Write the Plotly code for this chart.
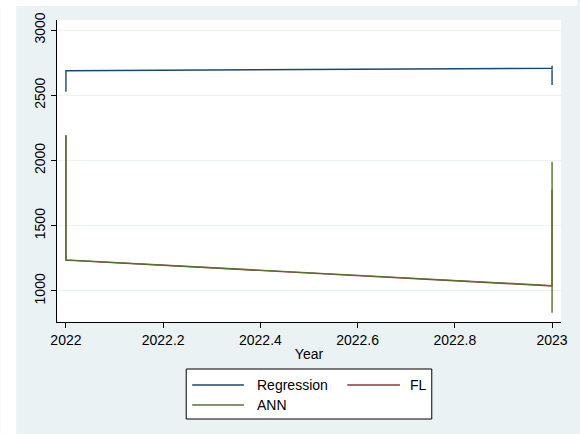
import plotly.graph_objects as go

# ---- data ----
series_names = ["Regression", "FL", "ANN"]
series_colors = ["#1a476f", "#90353b", "#55752f"]

reg_years = [2022, 2022, 2023, 2023, 2023]
reg_values = [2527, 2688, 2707, 2726, 2579]

fl_years = [2022, 2022, 2023, 2023]
fl_values = [2195, 1236, 1038, 1775]

ann_years = [2022, 2022, 2023, 2023, 2023]
ann_values = [2185, 1238, 1041, 1991, 833]

x_ticks = [2022, 2022.2, 2022.4, 2022.6, 2022.8, 2023]
x_tick_labels = ["2022", "2022.2", "2022.4", "2022.6", "2022.8", "2023"]
y_ticks = [1000, 1500, 2000, 2500, 3000]

W, H = 580, 434
L, R, T, B = 57, 16, 20, 112
PW, PH = W - L - R, H - T - B

def fx(px):
    return (px - L) / PW

def fy(py):
    return (H - B - py) / PH

FONT = "Liberation Sans, Arial, sans-serif"
BG = "#eaf2f3"

fig = go.Figure()
data = [(reg_years, reg_values), (fl_years, fl_values), (ann_years, ann_values)]
for (xs, ys), name, col in zip(data, series_names, series_colors):
    fig.add_trace(go.Scatter(x=xs, y=ys, mode="lines", name=name,
                             line=dict(color=col, width=1.4), showlegend=False))

shapes = []
annotations = []
# white strips outside the graph region
shapes.append(dict(type="rect", xref="paper", yref="paper", x0=fx(0), x1=fx(16), y0=fy(H), y1=fy(0),
                   fillcolor="white", line=dict(width=0), layer="below"))
shapes.append(dict(type="rect", xref="paper", yref="paper", x0=fx(0), x1=fx(W), y0=fy(6), y1=fy(0),
                   fillcolor="white", line=dict(width=0), layer="below"))
# legend box
shapes.append(dict(type="rect", xref="paper", yref="paper", x0=fx(187), x1=fx(434), y0=fy(419), y1=fy(369),
                   fillcolor="white", line=dict(color="black", width=1)))
legend_pos = [(193, 245, 385, 256), (349, 402, 385, 410), (193, 245, 405, 256)]
for (lx0, lx1, ly, tx), name, col in zip(legend_pos, series_names, series_colors):
    shapes.append(dict(type="line", xref="paper", yref="paper", x0=fx(lx0), x1=fx(lx1), y0=fy(ly), y1=fy(ly),
                       line=dict(color=col, width=1.4)))
    annotations.append(dict(xref="paper", yref="paper", x=fx(tx), y=fy(ly), text=name, showarrow=False,
                            xanchor="left", yanchor="middle", font=dict(family=FONT, size=14, color="black")))

fig.update_layout(
    width=W, height=H,
    margin=dict(l=L, r=R, t=T, b=B, pad=0),
    paper_bgcolor=BG, plot_bgcolor="white",
    font=dict(family=FONT, size=14, color="black"),
    shapes=shapes, annotations=annotations,
    xaxis=dict(range=[2021.9816, 2023.0184], tickvals=x_ticks, ticktext=x_tick_labels,
               showgrid=False, zeroline=False, showline=True, linecolor="black", linewidth=1,
               ticks="outside", ticklen=5, tickcolor="black",
               title=dict(text="Year", standoff=2, font=dict(size=14))),
    yaxis=dict(range=[762, 3077], tickvals=y_ticks, tickangle=-90,
               showgrid=True, gridcolor=BG, gridwidth=1, zeroline=False,
               showline=True, linecolor="black", linewidth=1,
               ticks="outside", ticklen=5, tickcolor="black"),
)

fig.write_html("out.html")
